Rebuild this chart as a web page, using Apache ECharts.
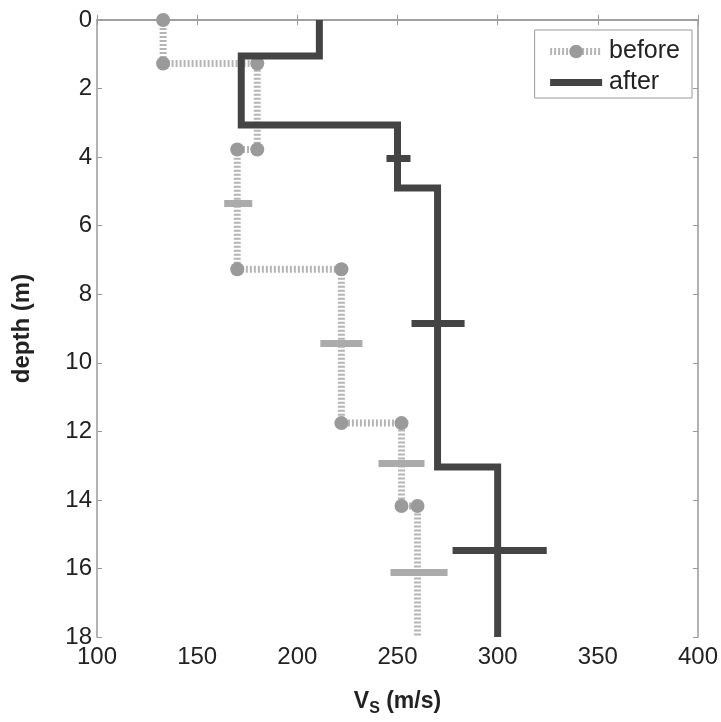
<!DOCTYPE html>
<html><head><meta charset="utf-8">
<script src="https://cdn.jsdelivr.net/npm/echarts@6/dist/echarts.min.js"></script>
<style>html,body{margin:0;padding:0;background:#fff}#c{width:721px;height:722px}</style>
</head><body><div id="c"></div>
<script>
// layer boundaries (depth, m) and Vs (m/s) per layer
const beforeDepth = [0, 1.27, 3.78, 7.27, 11.76, 14.18, 18];
const beforeVs = [133, 180, 170, 222, 252, 260];
const afterDepth = [0, 1.05, 3.06, 4.9, 13.04, 18];
const afterVs = [211, 172, 250, 270, 300];
// error bars
const beforeErrDepth = [5.35, 9.42, 12.93, 16.12];
const beforeErrLo = [163.5, 211.5, 240.5, 246.5];
const beforeErrHi = [177.5, 232.5, 263.5, 275];
const afterErrDepth = [4.03, 8.84, 15.47];
const afterErrLo = [244.5, 257, 277.5];
const afterErrHi = [256.5, 283.5, 324.5];
const xTicks = [100, 150, 200, 250, 300, 350, 400];
const yTicks = [0, 2, 4, 6, 8, 10, 12, 14, 16, 18];

function steps(depth, vs, markLast) {
  const pts = [];
  for (let i = 0; i < vs.length; i++) {
    pts.push({value: [vs[i], depth[i]]});
    const last = i === vs.length - 1;
    pts.push(last && !markLast ? {value: [vs[i], depth[i + 1]], symbol: 'none'} : {value: [vs[i], depth[i + 1]]});
  }
  return pts;
}
function bars(d, lo, hi) {
  return d.map((v, i) => ({coords: [[lo[i], v], [hi[i], v]]}));
}

const chart = echarts.init(document.getElementById('c'));
const font = 'Liberation Sans, Arial, sans-serif';
const boxColor = '#9a9a9a';
chart.setOption({
  animation: false,
  textStyle: {fontFamily: font},
  grid: {left: 97, right: 22, top: 20, bottom: 85},
  legend: {
    data: [
      {name: 'before', lineStyle: {width: 7, type: [2, 2], color: '#b5b5b5', cap: 'butt'}},
      {name: 'after', lineStyle: {width: 7, color: '#444', cap: 'butt'}, itemStyle: {opacity: 0}}
    ],
    orient: 'vertical',
    right: 29, top: 30,
    itemWidth: 52, itemHeight: 17, itemGap: 6,
    padding: [9, 12, 3, 12],
    borderColor: '#999', borderWidth: 1,
    textStyle: {fontSize: 25, color: '#222', fontFamily: font, padding: [0, 0, 0, 2]}
  },
  xAxis: [{
    type: 'value', min: 100, max: 400, interval: 50, position: 'bottom',
    name: '{a|V}{s|S}{a| (m/s)}', nameLocation: 'middle', nameGap: 50,
    nameTextStyle: {rich: {
      a: {fontSize: 23, fontWeight: 'bold', color: '#222', fontFamily: font},
      s: {fontSize: 16, fontWeight: 'bold', color: '#222', fontFamily: font, padding: [14, 0, 0, 0]}
    }},
    axisLine: {show: true, lineStyle: {color: boxColor, width: 1.5}},
    axisTick: {show: true, inside: true, length: 5, lineStyle: {color: boxColor}},
    axisLabel: {fontSize: 24, color: '#222', margin: 8, fontFamily: font},
    splitLine: {show: false}
  }, {
    type: 'value', min: 100, max: 400, interval: 50, position: 'top',
    axisLine: {show: true, lineStyle: {color: boxColor, width: 1.5}},
    axisTick: {show: true, inside: true, length: 5, lineStyle: {color: boxColor}},
    axisLabel: {show: false}, splitLine: {show: false}
  }],
  yAxis: [{
    type: 'value', min: 0, max: 18, interval: 2, inverse: true, position: 'left',
    name: 'depth (m)', nameLocation: 'middle', nameGap: 63, nameRotate: 90,
    nameTextStyle: {fontSize: 24, fontWeight: 'bold', color: '#222', fontFamily: font},
    axisLine: {show: true, lineStyle: {color: boxColor, width: 1.5}},
    axisTick: {show: true, inside: true, length: 5, lineStyle: {color: boxColor}},
    axisLabel: {fontSize: 24, color: '#222', margin: 5, fontFamily: font},
    splitLine: {show: false}
  }, {
    type: 'value', min: 0, max: 18, interval: 2, inverse: true, position: 'right',
    axisLine: {show: true, lineStyle: {color: boxColor, width: 1.5}},
    axisTick: {show: true, inside: true, length: 5, lineStyle: {color: boxColor}},
    axisLabel: {show: false}, splitLine: {show: false}
  }],
  series: [
    {
      name: 'before', type: 'line', data: steps(beforeDepth, beforeVs, false),
      symbol: 'circle', symbolSize: 14, showAllSymbol: true, clip: true,
      lineStyle: {color: '#b5b5b5', width: 7, type: [2, 2], cap: 'butt'},
      itemStyle: {color: '#9a9a9a'}, z: 2
    },
    {
      name: 'beforeErr', type: 'lines', coordinateSystem: 'cartesian2d',
      data: bars(beforeErrDepth, beforeErrLo, beforeErrHi),
      lineStyle: {color: '#ababab', width: 7, opacity: 1, cap: 'butt'}, z: 3
    },
    {
      name: 'after', type: 'line', data: steps(afterDepth, afterVs, false), symbol: 'none',
      lineStyle: {color: '#444', width: 7, join: 'miter', cap: 'butt'},
      itemStyle: {color: '#444'}, z: 4
    },
    {
      name: 'afterErr', type: 'lines', coordinateSystem: 'cartesian2d',
      data: bars(afterErrDepth, afterErrLo, afterErrHi),
      lineStyle: {color: '#444', width: 7, opacity: 1, cap: 'butt'}, z: 5
    }
  ]
});
</script></body></html>
